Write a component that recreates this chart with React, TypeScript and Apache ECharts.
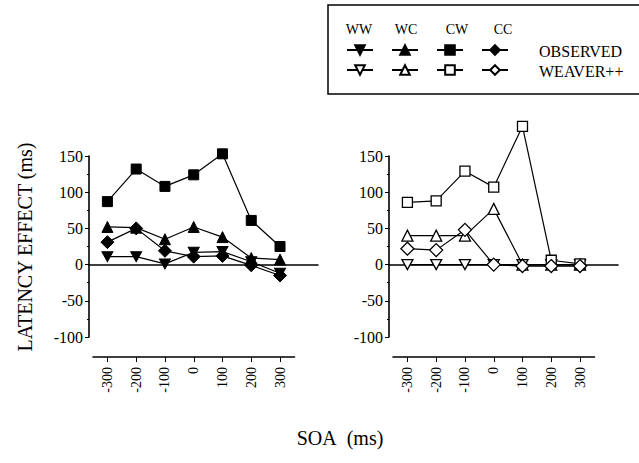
import React, { useEffect, useRef } from "react";
import * as echarts from "echarts";

const soa = [-300, -200, -100, 0, 100, 200, 300];
const soaLabels = ["-300", "-200", "-100", "0", "100", "200", "300"];
const yTicks = { min: -100, max: 150, interval: 50 };

// Observed (left panel)
const obsWW = [11, 11, 1, 17, 18, 4, -12];
const obsWC = [52, 51, 35, 52, 38, 9, 7];
const obsCW = [87, 132, 108, 124, 153, 61, 25];
const obsCC = [31, 50, 19, 11, 12, -1, -15];

// WEAVER++ (right panel)
const modWW = [0, 0, 0, 0, 0, 0, 0];
const modWC = [40, 40, 40, 77, 0, 0, 0];
const modCW = [86, 88, 129, 107, 191, 6, 1];
const modCC = [22, 20, 48, 0, -2, -2, -2];

const conditions = ["WW", "WC", "CW", "CC"];
const rowLabels = ["OBSERVED", "WEAVER++"];

const FONT = "'Liberation Serif', 'Times New Roman', serif";
const DOWN_TRI = "path://M0,0 L10,0 L5,9 Z";
const symbols = [DOWN_TRI, "triangle", "rect", "diamond"];
const symbolSizes = [[11, 10], 11, 10, 13];

function pairs(vals: number[]) {
  return soa.map((s, i) => [s, vals[i]]);
}

export default function App() {
  const ref = useRef<HTMLDivElement>(null);
  useEffect(() => {
    if (!ref.current) return;
    const chart = echarts.init(ref.current, null, { renderer: "svg" });

    const panels = [
      { left: 89, obs: true, data: [obsWW, obsWC, obsCW, obsCC] },
      { left: 389, obs: false, data: [modWW, modWC, modCW, modCC] },
    ];

    const grids: any[] = [];
    const xAxes: any[] = [];
    const yAxes: any[] = [];
    const series: any[] = [];

    panels.forEach((p, pi) => {
      const gMain = grids.length;
      grids.push({ left: p.left, top: 156, width: 229, height: 181 });
      grids.push({ left: p.left + 4, top: 356, width: 201.5, height: 1 });
      xAxes.push({
        gridIndex: gMain,
        type: "value",
        min: -364,
        max: 432,
        axisLine: { show: true, onZero: true, lineStyle: { color: "#000", width: 1.6 } },
        axisTick: { show: false },
        axisLabel: { show: false },
        splitLine: { show: false },
      });
      yAxes.push({
        gridIndex: gMain,
        type: "value",
        min: yTicks.min,
        max: yTicks.max,
        interval: yTicks.interval,
        axisLine: { show: true, onZero: false, lineStyle: { color: "#000", width: 1.6 } },
        axisTick: { show: true, length: 4, lineStyle: { color: "#000", width: 1 } },
        minorTick: { show: true, splitNumber: 2, length: 2, lineStyle: { color: "#000" } },
        axisLabel: { color: "#000", fontFamily: FONT, fontSize: 16, margin: 6 },
        splitLine: { show: false },
      });
      xAxes.push({
        gridIndex: gMain + 1,
        type: "category",
        data: soaLabels,
        position: "bottom",
        axisLine: { show: true, lineStyle: { color: "#000", width: 1.6 } },
        axisTick: { show: true, alignWithLabel: true, length: 5, lineStyle: { color: "#000" } },
        axisLabel: { rotate: 90, color: "#000", fontFamily: FONT, fontSize: 14, margin: 10 },
        splitLine: { show: false },
      });
      yAxes.push({ gridIndex: gMain + 1, type: "value", show: false, min: 0, max: 1 });

      p.data.forEach((vals, ci) => {
        series.push({
          type: "line",
          name: conditions[ci] + " " + (p.obs ? rowLabels[0] : rowLabels[1]),
          xAxisIndex: pi * 2,
          yAxisIndex: pi * 2,
          data: pairs(vals),
          clip: false,
          symbol: symbols[ci],
          symbolSize: symbolSizes[ci],
          showAllSymbol: true,
          lineStyle: { color: "#000", width: 1.2 },
          itemStyle: p.obs
            ? { color: "#000", borderColor: "#000", borderWidth: 1 }
            : { color: "#fff", borderColor: "#000", borderWidth: 1.3 },
          z: 2 + ci,
        });
      });
    });

    const legendBase = {
      orient: "horizontal",
      left: 346,
      itemWidth: 26,
      itemHeight: 12,
      itemGap: 17,
      padding: 0,
      selectedMode: false,
      formatter: () => "",
      textStyle: { fontSize: 1 },
    };

    chart.setOption({
      animation: false,
      backgroundColor: "#fff",
      grid: grids,
      xAxis: xAxes,
      yAxis: yAxes,
      series,
      legend: [
        { ...legendBase, top: 44, data: conditions.map((c) => c + " " + rowLabels[0]) },
        { ...legendBase, top: 64, data: conditions.map((c) => c + " " + rowLabels[1]) },
      ],
      graphic: [
        {
          type: "rect",
          shape: { x: 328, y: 5, width: 330, height: 89 },
          style: { fill: "none", stroke: "#000", lineWidth: 1.5 },
          silent: true,
        },
        ...conditions.map((c, i) => ({
          type: "text",
          x: [359, 406, 457, 503][i],
          y: 29,
          style: { text: c, font: `14px ${FONT}`, fill: "#000", textAlign: "center", textVerticalAlign: "middle" },
        })),
        ...rowLabels.map((t, i) => ({
          type: "text",
          x: 539,
          y: i === 0 ? 51 : 71,
          style: { text: t, font: `16px ${FONT}`, fill: "#000", textAlign: "left", textVerticalAlign: "middle" },
        })),
        {
          type: "text",
          x: 25,
          y: 247,
          rotation: Math.PI / 2,
          style: { text: "LATENCY EFFECT (ms)", font: `20px ${FONT}`, fill: "#000", textAlign: "center", textVerticalAlign: "middle" },
        },
        {
          type: "text",
          x: 340,
          y: 438,
          style: { text: "SOA\u00a0 (ms)", font: `20px ${FONT}`, fill: "#000", textAlign: "center", textVerticalAlign: "middle" },
        },
      ],
    });
    return () => chart.dispose();
  }, []);
  return (
    <div
      ref={ref}
      style={{ position: "fixed", left: 0, top: 0, width: 639, height: 463, background: "#fff" }}
    />
  );
}
